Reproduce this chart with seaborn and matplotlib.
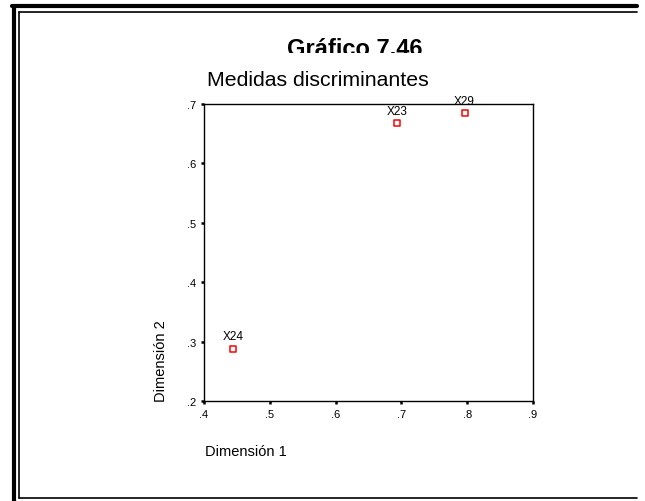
import matplotlib
matplotlib.use("Agg")
import matplotlib.pyplot as plt
import seaborn as sns
import pandas as pd
from matplotlib.lines import Line2D
from matplotlib.transforms import Bbox, TransformedBbox

# data
variables = ["X23", "X24", "X29"]
dim1 = [0.694, 0.444, 0.796]
dim2 = [0.668, 0.288, 0.685]
x_ticks = [0.4, 0.5, 0.6, 0.7, 0.8, 0.9]
y_ticks = [0.2, 0.3, 0.4, 0.5, 0.6, 0.7]

W, H = 645, 502


def fx(px):
    return px / W


def fy(py):
    return 1 - py / H


sns.set_style("white")
plt.rcParams["font.family"] = ["Liberation Sans", "DejaVu Sans"]
plt.rcParams["text.color"] = "black"

df = pd.DataFrame({"variable": variables, "dim1": dim1, "dim2": dim2})

fig = plt.figure(figsize=(W / 100, H / 100), dpi=100)
ax = fig.add_axes([fx(204), fy(402), fx(533) - fx(204), fy(105) - fy(402)])

sns.scatterplot(data=df, x="dim1", y="dim2", marker="s", s=22,
                facecolor="white", edgecolor="#ff0000", linewidth=1.1, ax=ax)
for _, row in df.iterrows():
    ax.annotate(row["variable"], (row["dim1"], row["dim2"]), xytext=(0, 4.5),
                textcoords="offset points", ha="center", va="bottom",
                fontsize=8.5, color="black")

ax.set_xlim(0.4, 0.9)
ax.set_ylim(0.2, 0.7)
ax.set_xticks(x_ticks)
ax.set_yticks(y_ticks)
ax.set_xticklabels(["." + f"{v:.1f}".split(".")[1] for v in x_ticks], fontsize=8)
ax.set_yticklabels(["." + f"{v:.1f}".split(".")[1] for v in y_ticks], fontsize=8)
ax.tick_params(bottom=True, left=True, direction="out", length=2.5, width=1.8,
               pad=3, colors="black")
for sp in ax.spines.values():
    sp.set_color("black")
    sp.set_linewidth(1)
ax.set_xlabel("")
ax.set_ylabel("")

fig.text(fx(205), fy(452), "Dimensión 1", ha="left", va="center", fontsize=10.5)
fig.text(fx(161), fy(402), "Dimensión 2", ha="center", va="bottom",
         rotation=90, fontsize=10.5)
title = fig.text(fx(355), fy(56.5), "Gráfico 7.46", ha="center", va="baseline",
                 fontsize=17, fontweight="bold")
# the title is cut off at the bottom in the original
title.set_clip_box(TransformedBbox(Bbox.from_extents(0, fy(54), 1, 1),
                                   fig.transFigure))
title.set_clip_on(True)
fig.text(fx(318), fy(86), "Medidas discriminantes", ha="center", va="baseline",
         fontsize=15.3)

# page frame
fig.add_artist(Line2D([fx(14), fx(14)], [fy(7), 0], color="black", lw=3))
fig.add_artist(Line2D([fx(12), fx(637)], [fy(7), fy(7)], color="black", lw=3))
fig.add_artist(Line2D([fx(19), fx(19)], [fy(13), fy(499)], color="black", lw=1.2))
fig.add_artist(Line2D([fx(19), fx(637)], [fy(13), fy(13)], color="black", lw=1.2))
fig.add_artist(Line2D([fx(19), fx(637)], [fy(499), fy(499)], color="black", lw=1.2))

fig.savefig("out.png", dpi=100)
